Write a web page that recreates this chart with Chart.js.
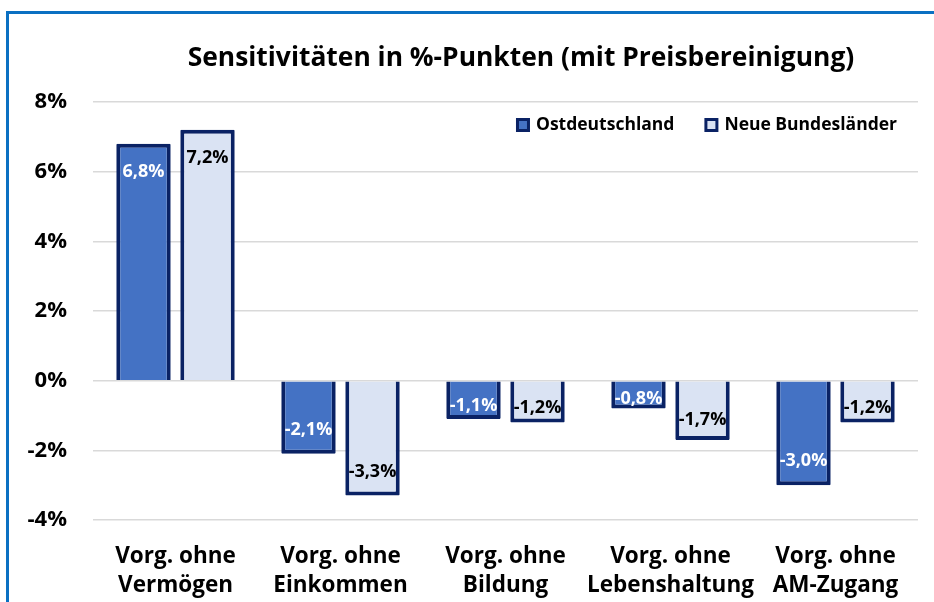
<!DOCTYPE html>
<html>
<head>
<meta charset="utf-8">
<script src="https://cdn.jsdelivr.net/npm/chart.js@4"></script>
<style>
  html, body { margin: 0; padding: 0; background: #fff; overflow: hidden; }
  #wrap { position: relative; width: 934px; height: 602px; }
  /* blue frame of the original slide box */
  #frame { position: absolute; left: 6px; top: 11px; width: 940px; height: 600px;
           border-top: 3px solid #0a70c2; border-left: 3px solid #0a70c2; }
  #chart { position: absolute; left: 0; top: 0; }
</style>
</head>
<body>
<div id="wrap">
  <div id="frame"></div>
  <canvas id="chart" width="934" height="602"></canvas>
</div>
<script>
// Categories (two-line labels)
const categories = [
    ['Vorg. ohne', 'Vermögen'],
    ['Vorg. ohne', 'Einkommen'],
    ['Vorg. ohne', 'Bildung'],
    ['Vorg. ohne', 'Lebenshaltung'],
    ['Vorg. ohne', 'AM-Zugang']
];

// Series values in %-points
const ostdeutschland = [6.8, -2.1, -1.1, -0.8, -3.0];
const neueBundeslaender = [7.2, -3.3, -1.2, -1.7, -1.2];

// Y axis range / ticks
const yMin = -4;
const yMax = 8;
const yStep = 2;

const titleText = 'Sensitivitäten in %-Punkten (mit Preisbereinigung)';

const fmt = v => v.toFixed(1).replace('.', ',') + '%';
const FONT = "'Open Sans', sans-serif";

Chart.defaults.font.family = FONT;
Chart.defaults.color = '#000';

// Title is a bit right of the canvas centre in the original
const offsetTitle = {
    id: 'offsetTitle',
    afterDraw(chart) {
        const ctx = chart.ctx;
        ctx.save();
        ctx.font = 'bold 26.4px ' + FONT;
        ctx.textAlign = 'center';
        ctx.textBaseline = 'middle';
        ctx.fillStyle = '#000';
        ctx.fillText(titleText, 521, 58);
        ctx.restore();
    }
};

// Draws the value labels inside the bar ends
const barLabels = {
    id: 'barLabels',
    afterDatasetsDraw(chart) {
        const ctx = chart.ctx;
        ctx.save();
        ctx.font = 'bold 18px ' + FONT;
        ctx.textAlign = 'center';
        ctx.textBaseline = 'middle';
        chart.data.datasets.forEach((ds, di) => {
            const meta = chart.getDatasetMeta(di);
            ctx.fillStyle = ds.labelColor;
            meta.data.forEach((bar, i) => {
                const v = ds.data[i];
                const h = Math.abs(bar.base - bar.y);
                let y;
                if (v >= 0) {
                    y = bar.y + Math.min(28, h / 2);
                } else {
                    y = bar.y - Math.min(24, h * 0.35);
                }
                ctx.fillText(fmt(v), bar.x, y);
            });
        });
        ctx.restore();
    }
};

// Legend drawn inside the plot, top right
const innerLegend = {
    id: 'innerLegend',
    afterDraw(chart) {
        const ctx = chart.ctx;
        const area = chart.chartArea;
        const yc = area.top + 23;
        const box = 14, gap = 6, itemGap = 30;
        ctx.save();
        ctx.font = 'bold 17.5px ' + FONT;
        ctx.textBaseline = 'middle';
        ctx.textAlign = 'left';
        let x = area.right - 21;
        const sets = chart.data.datasets.slice().reverse();
        sets.forEach(ds => {
            const w = ctx.measureText(ds.label).width;
            const tx = x - w;
            const bx = tx - gap - box;
            ctx.fillStyle = ds.borderColor;
            ctx.fillRect(bx, yc - box / 2, box, box);
            ctx.fillStyle = ds.backgroundColor;
            ctx.fillRect(bx + 3, yc - box / 2 + 3, box - 6, box - 6);
            ctx.fillStyle = '#000';
            ctx.fillText(ds.label, tx, yc);
            x = bx - itemGap;
        });
        ctx.restore();
    }
};

const ctx = document.getElementById('chart').getContext('2d');
const chart = new Chart(ctx, {
    type: 'bar',
    data: {
        labels: categories,
        datasets: [
            {
                label: 'Ostdeutschland',
                data: ostdeutschland,
                backgroundColor: '#4472c4',
                borderColor: '#0a2264',
                borderWidth: 4,
                borderRadius: 1,
                labelColor: '#fff',
                categoryPercentage: 0.776,
                barPercentage: 0.85
            },
            {
                label: 'Neue Bundesländer',
                data: neueBundeslaender,
                backgroundColor: '#dae3f3',
                borderColor: '#0a2264',
                borderWidth: 4,
                borderRadius: 1,
                labelColor: '#000',
                categoryPercentage: 0.776,
                barPercentage: 0.85
            }
        ]
    },
    options: {
        responsive: false,
        animation: false,
        layout: {
            padding: { left: 0, right: 16, top: 102, bottom: 0 }
        },
        scales: {
            x: {
                afterFit(scale) { scale.height = 82; },
                grid: { display: false, drawTicks: false },
                border: { display: false },
                ticks: {
                    padding: 22,
                    maxRotation: 0,
                    minRotation: 0,
                    autoSkip: false,
                    font: { size: 22.5, weight: 'bold', lineHeight: 1.29 },
                    color: '#000'
                }
            },
            y: {
                min: yMin,
                max: yMax,
                afterFit(scale) { scale.width = 93; },
                grid: {
                    color: '#d9d9d9',
                    lineWidth: 1.5,
                    drawTicks: false
                },
                border: { display: false },
                ticks: {
                    stepSize: yStep,
                    padding: 26,
                    font: { size: 22, weight: 'bold' },
                    color: '#000',
                    callback: v => v + '%'
                }
            }
        },
        plugins: {
            title: { display: false },
            legend: { display: false },
            tooltip: { enabled: false }
        }
    },
    plugins: [barLabels, innerLegend, offsetTitle]
});
</script>
</body>
</html>
